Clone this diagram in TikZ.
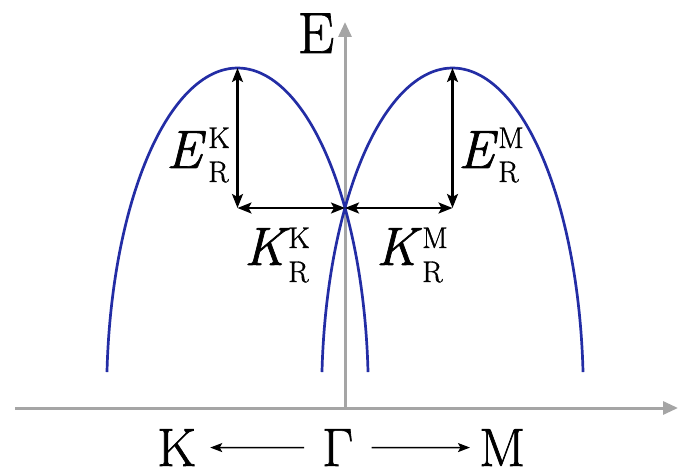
\documentclass[tikz,border=0pt]{standalone}
\usepackage{fontspec}
\setmainfont{Latin Modern Roman}[FakeBold=1.2]
\usetikzlibrary{arrows.meta,calc}
\definecolor{axisgray}{RGB}{165,165,165}
\definecolor{bandblue}{RGB}{35,45,165}
\begin{document}
\begin{tikzpicture}[x=1pt,y=-1pt,
  axisline/.style={draw=axisgray,line width=3pt,-{Triangle[length=15pt,width=13pt]}},
  band/.style={draw=bandblue,line width=2.7pt},
  dimarrow/.style={draw=black,line width=2.3pt,{Stealth[length=14pt,width=11pt,inset=3pt]}-{Stealth[length=14pt,width=11pt,inset=3pt]}},
  dirarrow/.style={draw=black,line width=1.6pt,-{Stealth[length=12pt,width=9pt,inset=2.5pt]}},
  big/.style={inner sep=0pt,anchor=base west,font=\fontsize{54}{58}\selectfont},
  bigit/.style={big,font=\fontsize{54}{58}\selectfont\itshape},
  small/.style={inner sep=0pt,anchor=base west,font=\fontsize{30}{33}\selectfont}]
\useasboundingbox (0,0) rectangle (678,476);
% axes
\coordinate (o) at (345,408);
\coordinate (xl) at (15,408);
\coordinate (xr) at (678,408);
\coordinate (yt) at (345,22);
\draw[axisline] (xl) -- (xr);
\draw[axisline] (o) -- (yt);
\node[big,anchor=base,font=\fontsize{58}{62}\selectfont] (Elab) at (316,53) {E};
% bands
\draw[band] plot[domain=3.7:176.3,samples=120,smooth] ({237.5+130.8*cos(\x)},{393-325*sin(\x)});
\draw[band] plot[domain=3.7:176.3,samples=120,smooth] ({452.5+130.8*cos(\x)},{393-325*sin(\x)});
% key points
\coordinate (vk) at (237.5,68);
\coordinate (bk) at (237.5,208);
\coordinate (c) at (345,208);
\coordinate (vm) at (452.5,68);
\coordinate (bm) at (452.5,208);
\draw[dimarrow] (vk) -- (bk);
\draw[dimarrow] (bk) -- (c);
\draw[dimarrow] (c) -- (bm);
\draw[dimarrow] (vm) -- (bm);
% labels
\node[bigit] (EK) at (166,168) {E};
\node[small] (EKs) at (208,148) {K};
\node[small] (EKr) at (208,182) {R};
\node[bigit] (KK) at (244,265) {K};
\node[small] (KKs) at (288,248) {K};
\node[small] (KKr) at (288,282) {R};
\node[bigit] (EM) at (458,168) {E};
\node[small] (EMs) at (498,148) {M};
\node[small] (EMr) at (498,182) {R};
\node[bigit] (KM) at (376,265) {K};
\node[small] (KMs) at (422,248) {M};
\node[small] (KMr) at (422,282) {R};
% bottom direction labels
\node[big] (K) at (157,466) {K};
\node[big] (G) at (322,466) {Γ};
\node[big] (M) at (479,466) {M};
\draw[dirarrow,shorten <=18pt,shorten >=14pt] (G.west) -- (K.east);
\draw[dirarrow,shorten <=18pt,shorten >=9pt] (G.east) -- (M.west);
\end{tikzpicture}
\end{document}
